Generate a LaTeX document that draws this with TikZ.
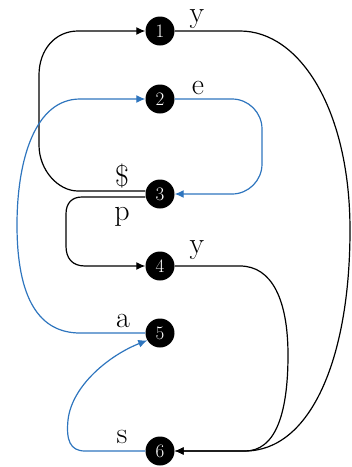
\documentclass[tikz,border=0pt]{standalone}
\usetikzlibrary{arrows.meta}
\definecolor{arcblue}{RGB}{46,117,190}
\begin{document}
\begin{tikzpicture}[x=1pt,y=-1pt,
  state/.style={circle,fill=black,minimum size=29pt,inner sep=0pt,text=white,
    font=\fontsize{19}{19}\selectfont},
  lbl/.style={font=\fontsize{30}{30}\selectfont,inner sep=0pt,anchor=base,
    text height=1.2ex,text depth=0.2ex},
  arc/.style={line width=1.2pt,-{Latex[length=9pt,width=8pt]}},
  bluearc/.style={arc,draw=arcblue,-{Latex[length=9pt,width=8pt,fill=arcblue]}}]
\useasboundingbox (0,0) rectangle (352,467);

% states
\node[state] (n1) at (160,31)  {1};
\node[state] (n2) at (160,99)  {2};
\node[state] (n3) at (160,194) {3};
\node[state] (n4) at (160,266) {4};
\node[state] (n5) at (160,333) {5};
\node[state] (n6) at (160,451) {6};

% transition labels
\node[lbl] (ly1) at (197,22)  {y};
\node[lbl] (le)  at (198,94)  {e};
\node[lbl] (ld)  at (122,186) {\$};
\node[lbl] (lp)  at (122,220) {p};
\node[lbl] (ly4) at (197,253) {y};
\node[lbl] (la)  at (123,327) {a};
\node[lbl] (ls)  at (122,443) {s};

% black transitions
\draw[arc] ([yshift=3pt]n3.west) -- (78,191)
  .. controls (58,191) and (39,170) .. (39,145) -- (39,75)
  .. controls (39,50) and (55,31) .. (78,31) -- (n1.west);
\draw[arc] ([yshift=-3pt]n3.west) -- (82,197)
  .. controls (72,197) and (66,203) .. (66,214) -- (66,246)
  .. controls (66,258) and (72,266) .. (85,266) -- (n4.west);
\draw[arc] (n1.east) -- (240,31)
  .. controls (300,31) and (350,110) .. (350,230)
  .. controls (350,360) and (310,451) .. (245,451) -- (n6.east);
\draw[arc] (n4.east) -- (240,266)
  .. controls (272,266) and (288,300) .. (288,355)
  .. controls (288,415) and (275,451) .. (245,451) -- (n6.east);

% blue transitions
\draw[bluearc] (n2.east) -- (232,99)
  .. controls (248.5,99) and (262,112.5) .. (262,129) -- (262,164)
  .. controls (262,180.5) and (248.5,194) .. (232,194) -- (n3.east);
\draw[bluearc] (n5.west) -- (80,333)
  .. controls (40,333) and (17,300) .. (17,225)
  .. controls (17,160) and (35,99) .. (80,99) -- (n2.west);
\draw[bluearc] (n6.west) -- (85,451)
  .. controls (70,451) and (66,440) .. (68,420)
  .. controls (72,385) and (110,355) .. (n5.210);
\end{tikzpicture}
\end{document}
